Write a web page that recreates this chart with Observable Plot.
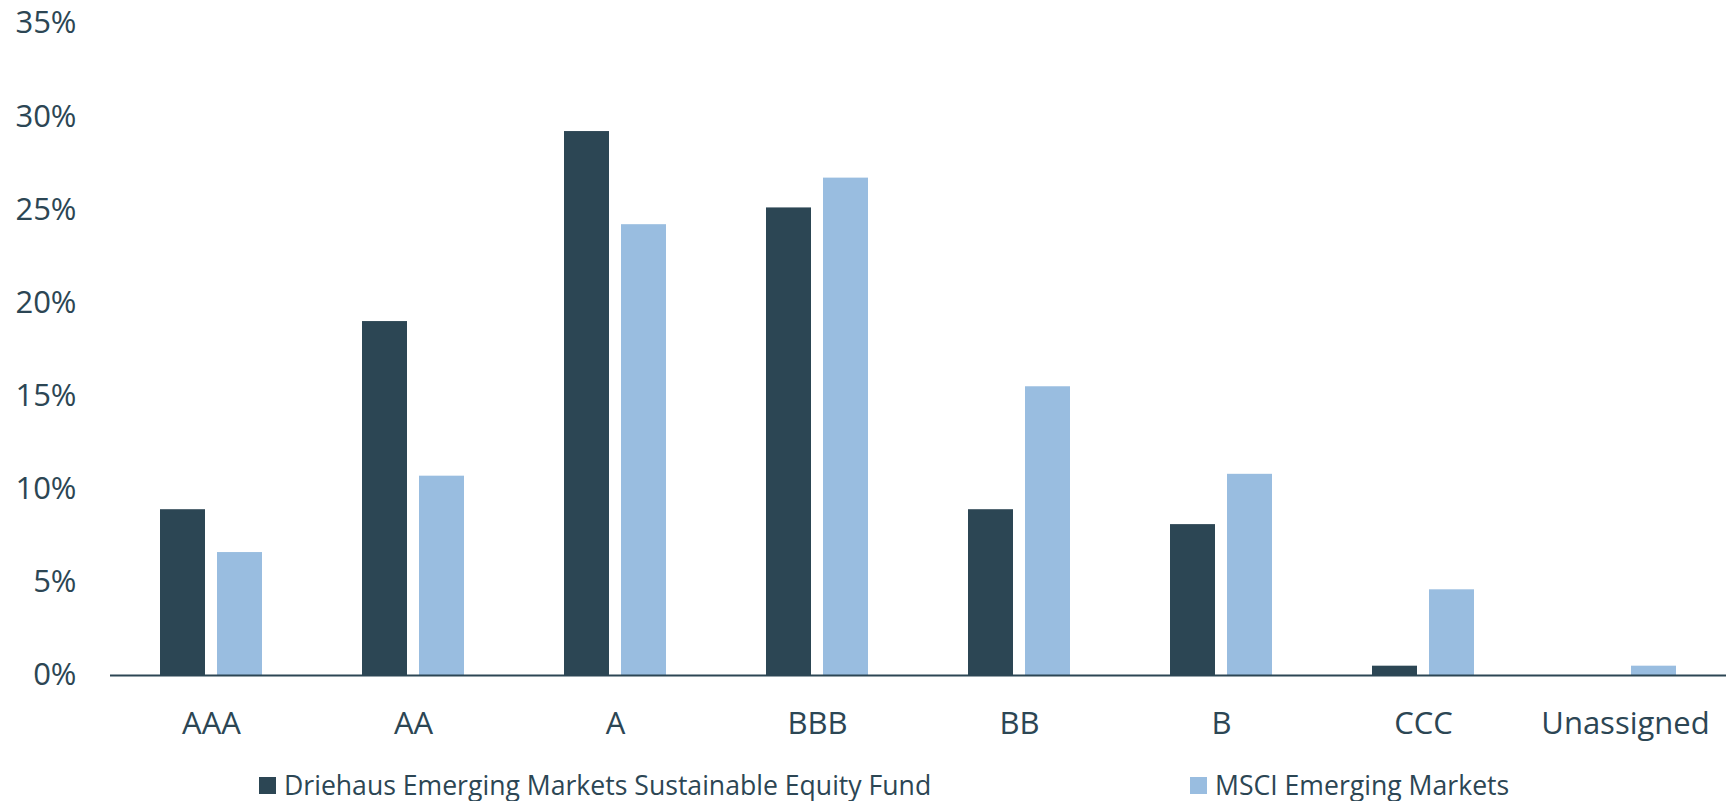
<!DOCTYPE html>
<html>
<head>
<meta charset="utf-8">
<script src="https://cdn.jsdelivr.net/npm/d3@7"></script>
<script src="https://cdn.jsdelivr.net/npm/@observablehq/plot@0.6"></script>
<style>
  html, body { margin: 0; padding: 0; background: #ffffff; }
  body { width: 1731px; height: 801px; overflow: hidden; font-family: "Open Sans", sans-serif; }
  #legend { position: relative; height: 46px; color: #2c4654; font-size: 26.6px; }
  .item { position: absolute; top: 12px; display: flex; align-items: center; white-space: nowrap; }
  .swatch { width: 17px; height: 17px; margin-right: 8px; }
</style>
</head>
<body>
<div id="chart"></div>
<div id="legend"></div>
<script>
// ESG rating buckets
const ratings = ["AAA", "AA", "A", "BBB", "BB", "B", "CCC", "Unassigned"];
// Series names
const series = ["Driehaus Emerging Markets Sustainable Equity Fund", "MSCI Emerging Markets"];
// Portfolio weight (%) per rating
const fundValues = [8.9, 19.0, 29.2, 25.1, 8.9, 8.1, 0.5, 0];
const benchmarkValues = [6.6, 10.7, 24.2, 26.7, 15.5, 10.8, 4.6, 0.5];
// Y-axis ticks
const yTicks = [0, 5, 10, 15, 20, 25, 30, 35];
const colors = ["#2c4654", "#99bde0"];

const rows = ratings.flatMap((r, i) => [
  {rating: r, series: series[0], value: fundValues[i]},
  {rating: r, series: series[1], value: benchmarkValues[i]}
]);

const ink = "#2c4654";

const chart = Plot.plot({
  width: 1731,
  height: 755,
  marginLeft: 108,
  marginRight: 3,
  marginTop: 23,
  marginBottom: 80,
  style: {fontFamily: "'Open Sans', sans-serif", fontSize: "31px", color: ink, background: "white"},
  fx: {domain: ratings, padding: 0, axis: "bottom", label: null, tickSize: 0, tickPadding: 36},
  x: {domain: series, axis: null, paddingInner: 0.217, paddingOuter: 0.87},
  y: {domain: [0, 35], ticks: yTicks, tickFormat: d => d + "%", label: null, tickSize: 0, tickPadding: 34},
  color: {domain: series, range: colors},
  marks: [
    Plot.barY(rows, {fx: "rating", x: "series", y: "value", fill: "series"}),
    Plot.ruleY([0], {stroke: ink, strokeWidth: 2})
  ]
});
document.getElementById("chart").appendChild(chart);

// Legend beneath the chart
const legend = document.getElementById("legend");
const legendLeft = [259, 1190];
series.forEach((s, i) => {
  const item = document.createElement("div");
  item.className = "item";
  item.style.left = legendLeft[i] + "px";
  const sw = document.createElement("span");
  sw.className = "swatch";
  sw.style.background = colors[i];
  const label = document.createElement("span");
  label.textContent = s;
  item.appendChild(sw);
  item.appendChild(label);
  legend.appendChild(item);
});
</script>
</body>
</html>
